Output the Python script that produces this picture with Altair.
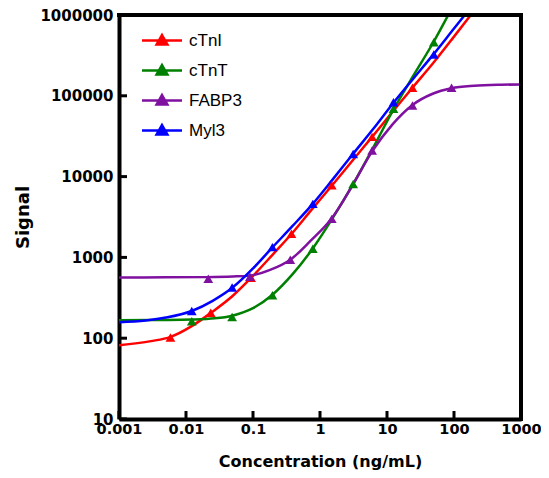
import altair as alt
import pandas as pd

series_names = ["cTnI", "cTnT", "FABP3", "Myl3"]
series_colors = ["#FF0000", "#008000", "#7F10A0", "#0000FF"]

# measured points (triangles)
cTnI_x = [0.00586, 0.0234, 0.0938, 0.375, 1.5, 6, 24]
cTnI_y = [102, 206, 560, 1960, 7800, 31000, 126000]
cTnT_x = [0.0122, 0.0488, 0.195, 0.781, 3.125, 12.5, 50]
cTnT_y = [162, 183, 340, 1280, 8100, 69000, 460000]
FABP3_x = [0.0215, 0.09, 0.36, 1.5, 6, 24, 92]
FABP3_y = [545, 575, 935, 3000, 21000, 76000, 126000]
Myl3_x = [0.0122, 0.0488, 0.195, 0.781, 3.125, 12.5, 50]
Myl3_y = [217, 423, 1340, 4600, 19000, 83000, 325000]

# fitted curves
cTnI_fit_x = [0.001, 0.003, 0.0059, 0.012, 0.0234, 0.05, 0.094, 0.2, 0.375, 0.75, 1.5, 3, 6, 12, 24, 50, 100, 178]
cTnI_fit_y = [82, 92, 104, 140, 205, 335, 560, 1100, 1950, 3900, 7700, 15500, 31000, 63000, 126000, 260000, 540000, 1000000]
cTnT_fit_x = [0.001, 0.005, 0.0122, 0.027, 0.049, 0.1, 0.195, 0.39, 0.78, 1.56, 3.1, 6.25, 12.5, 25, 50, 82]
cTnT_fit_y = [167, 168, 170, 176, 190, 235, 345, 620, 1290, 3100, 8000, 23000, 68000, 180000, 470000, 1000000]
FABP3_fit_x = [0.001, 0.005, 0.02, 0.05, 0.09, 0.18, 0.36, 0.72, 1.5, 3, 6, 12, 24, 48, 92, 200, 500, 1000]
FABP3_fit_y = [565, 566, 570, 580, 595, 700, 935, 1600, 3050, 7600, 20500, 44000, 77000, 106000, 124000, 133000, 137000, 138000]
Myl3_fit_x = [0.001, 0.0025, 0.005, 0.0122, 0.025, 0.049, 0.1, 0.195, 0.39, 0.78, 1.56, 3.1, 6.25, 12.5, 25, 50, 100, 145]
Myl3_fit_y = [158, 166, 180, 217, 290, 420, 730, 1330, 2450, 4600, 9300, 19000, 39000, 82000, 165000, 330000, 680000, 1000000]

x_ticks = [0.001, 0.01, 0.1, 1, 10, 100, 1000]
y_ticks = [10, 100, 1000, 10000, 100000, 1000000]

pts = {"cTnI": (cTnI_x, cTnI_y), "cTnT": (cTnT_x, cTnT_y),
       "FABP3": (FABP3_x, FABP3_y), "Myl3": (Myl3_x, Myl3_y)}
fits = {"cTnI": (cTnI_fit_x, cTnI_fit_y), "cTnT": (cTnT_fit_x, cTnT_fit_y),
        "FABP3": (FABP3_fit_x, FABP3_fit_y), "Myl3": (Myl3_fit_x, Myl3_fit_y)}

rows = []
for s, (xs, ys) in pts.items():
    for a, b in zip(xs, ys):
        rows.append({"conc": a, "signal": b, "series": s})
pts_df = pd.DataFrame(rows)

rows = []
for s, (xs, ys) in fits.items():
    for i, (a, b) in enumerate(zip(xs, ys)):
        rows.append({"conc": a, "signal": b, "series": s, "i": i})
fit_df = pd.DataFrame(rows)

W, H = 402, 404
xscale = alt.Scale(type="log", domain=[0.001, 1000], nice=False)
yscale = alt.Scale(type="log", domain=[10, 1000000], nice=False)
cscale = alt.Scale(domain=series_names, range=series_colors)

FONT = "DejaVu Sans"
xaxis = alt.Axis(values=x_ticks, format="~f", tickSize=0, labelPadding=3,
                 domainWidth=4, domainColor="black", labelFont=FONT, labelFontWeight="bold",
                 labelFontSize=14.5, labelColor="black", title="Concentration (ng/mL)",
                 titleFont=FONT, titleFontWeight="bold", titleFontSize=16, titleColor="black",
                 titlePadding=18, grid=False, labelFlush=False, labelOverlap=False)
yaxis = alt.Axis(values=y_ticks, format="d", tickSize=0, labelPadding=6,
                 domainWidth=4, domainColor="black", labelFont=FONT, labelFontWeight="bold",
                 labelFontSize=15, labelColor="black", title="Signal",
                 titleFont=FONT, titleFontWeight="bold", titleFontSize=18, titleColor="black",
                 titlePadding=7, grid=False, labelFlush=False, labelOverlap=False)

sym_path = "M-2,0L2,0M0,-0.54L0.54,0.4L-0.54,0.4Z"
leg = alt.Legend(title=None, orient="none", legendX=31.5, legendY=14, symbolType=sym_path,
                 symbolSize=400, symbolStrokeWidth=2.5, labelFont="Liberation Sans",
                 labelFontSize=17, labelColor="black", labelOffset=15.5, rowPadding=9,
                 padding=0)

lines = alt.Chart(fit_df).mark_line(strokeWidth=2.5, interpolate="monotone", clip=True).encode(
    x=alt.X("conc:Q", scale=xscale, axis=xaxis),
    y=alt.Y("signal:Q", scale=yscale, axis=yaxis),
    stroke=alt.Stroke("series:N", scale=cscale, legend=leg, sort=series_names),
    order="i:Q",
)

points = alt.Chart(pts_df).mark_point(shape="triangle-up", filled=True, size=95, opacity=1).encode(
    x=alt.X("conc:Q", scale=xscale, axis=xaxis),
    y=alt.Y("signal:Q", scale=yscale, axis=yaxis),
    fill=alt.Fill("series:N", scale=cscale, legend=leg, sort=series_names),
)

xt = alt.Chart(pd.DataFrame({"v": x_ticks})).mark_rule(color="black", strokeWidth=3).encode(
    x=alt.X("v:Q", scale=xscale, axis=xaxis),
    y=alt.value(H), y2=alt.value(H - 8),
)
yt = alt.Chart(pd.DataFrame({"v": y_ticks})).mark_rule(color="black", strokeWidth=3).encode(
    y=alt.Y("v:Q", scale=yscale, axis=yaxis),
    x=alt.value(0), x2=alt.value(8),
)

frame_df = pd.DataFrame({"k": [0]})
top_line = alt.Chart(frame_df).mark_rule(color="black", strokeWidth=4).encode(
    x=alt.value(-2), x2=alt.value(W + 2), y=alt.value(0),
)
right_line = alt.Chart(frame_df).mark_rule(color="black", strokeWidth=4).encode(
    x=alt.value(W), y=alt.value(-2), y2=alt.value(H + 2),
)

chart = alt.layer(lines, points, xt, yt, top_line, right_line).properties(
    width=W, height=H,
    autosize=alt.AutoSizeParams(type="none"),
    padding={"left": 111, "top": 7, "right": 20, "bottom": 51},
).configure_view(stroke="black", strokeWidth=1).configure(background="white")

chart.save("out.html", embed_options={"renderer": "svg", "actions": False})
